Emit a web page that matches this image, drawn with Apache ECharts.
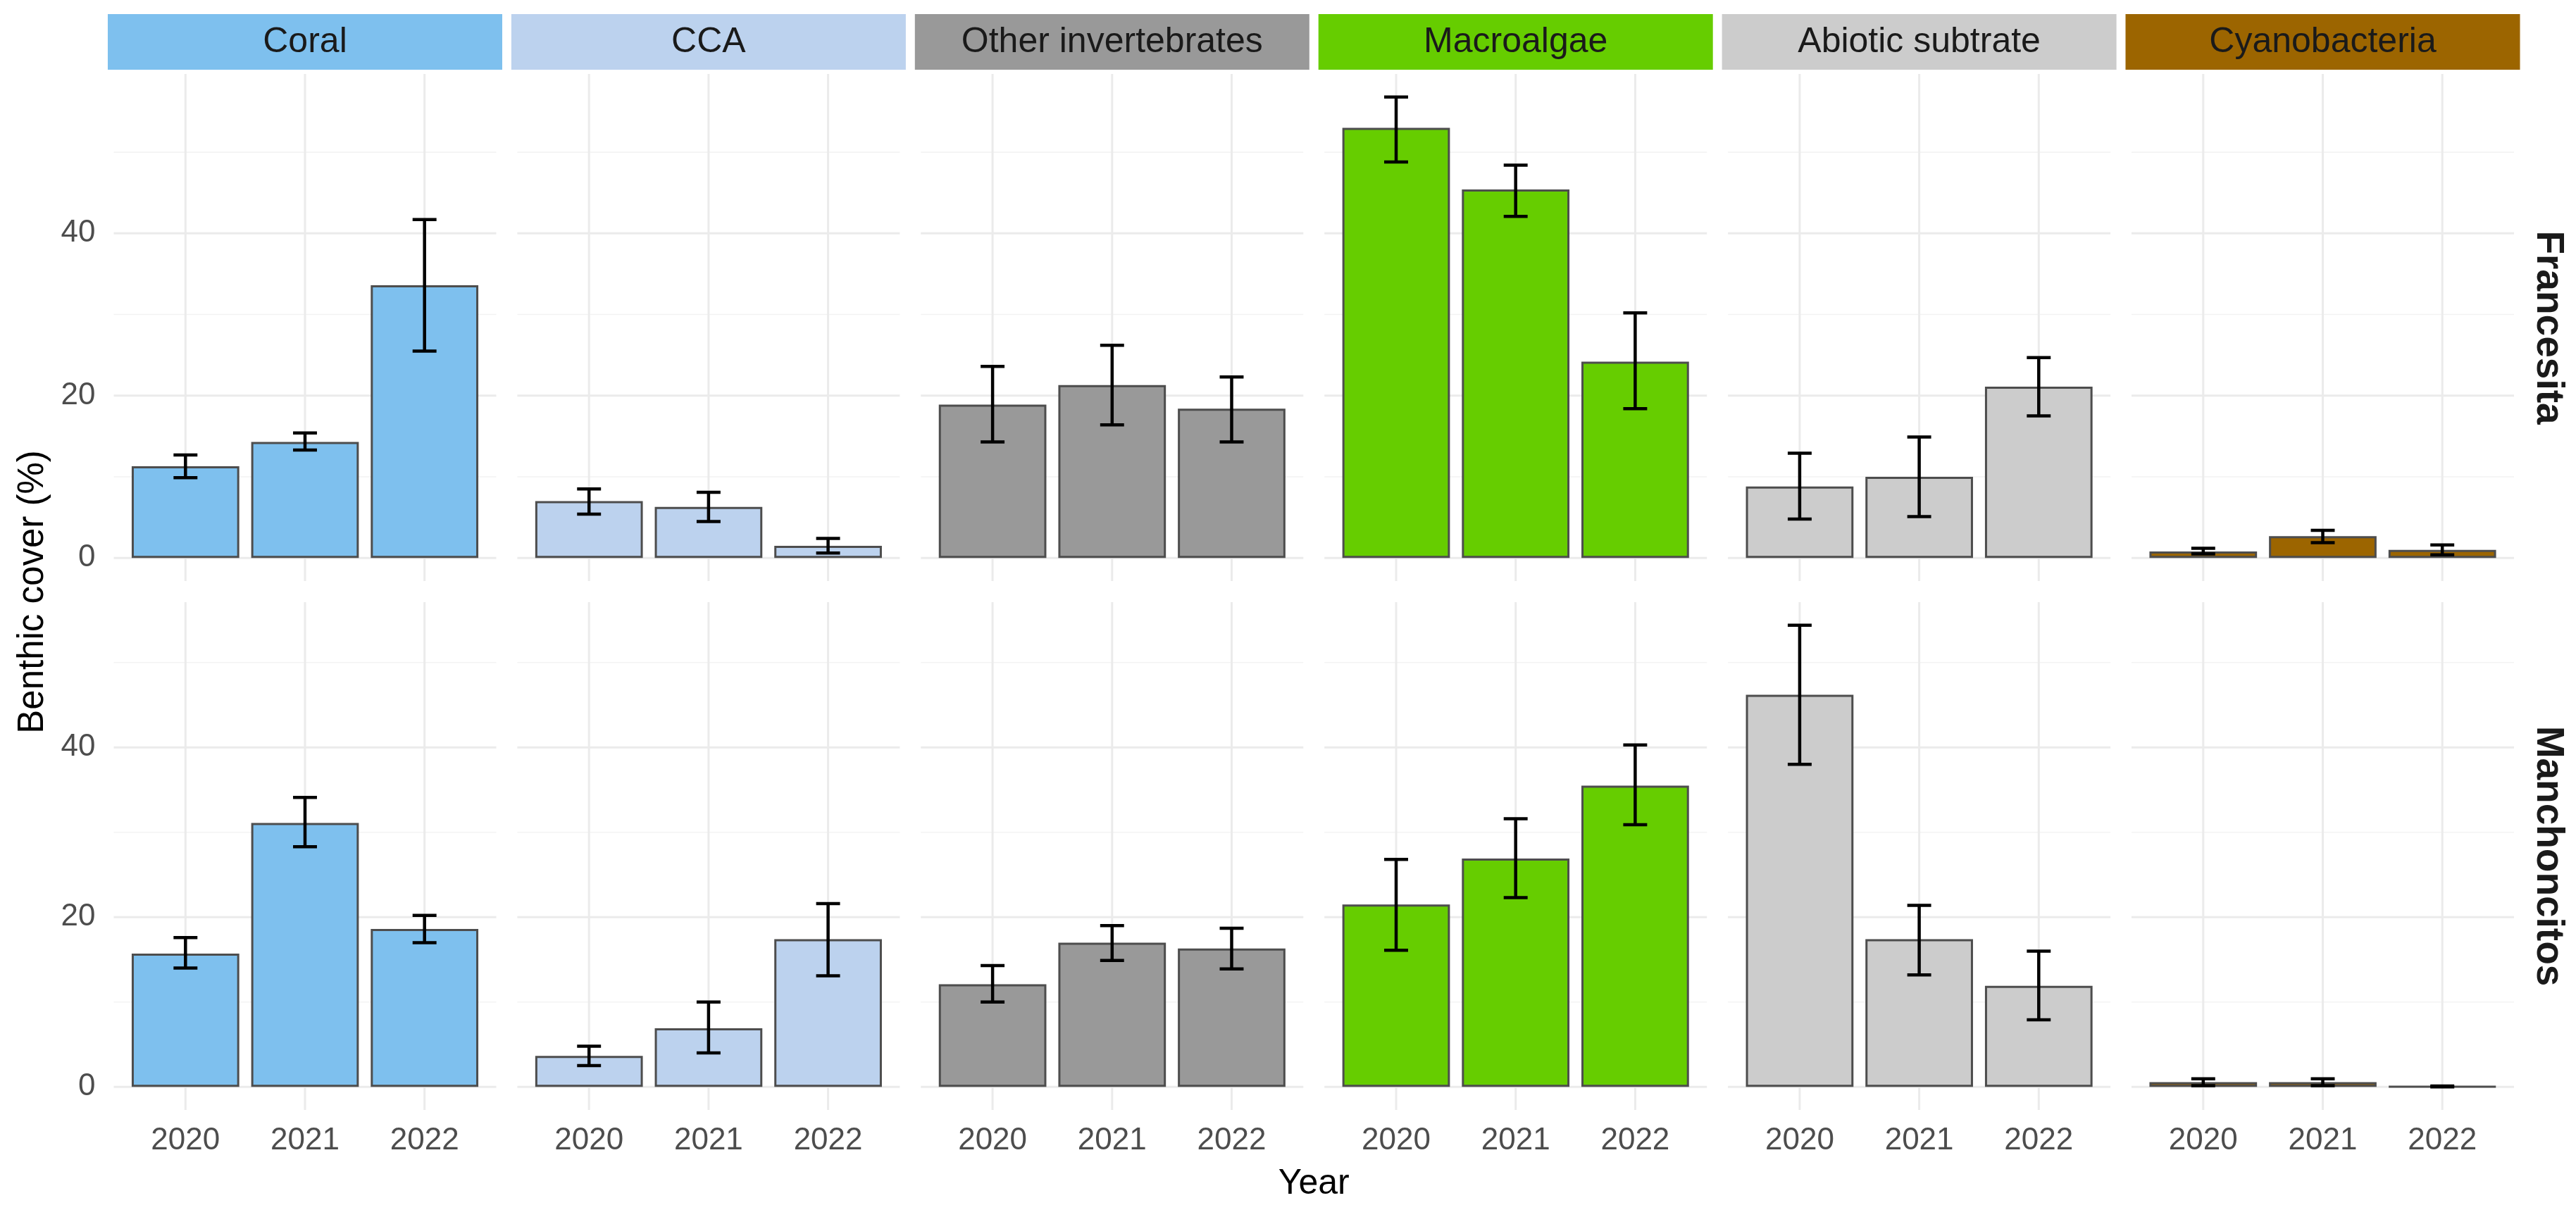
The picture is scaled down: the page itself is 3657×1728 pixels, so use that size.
<!DOCTYPE html>
<html>
<head>
<meta charset="utf-8">
<script src="https://cdn.jsdelivr.net/npm/echarts@6/dist/echarts.min.js"></script>
<style>
html,body{margin:0;padding:0;background:#ffffff;}
#chart{width:3657px;height:1728px;}
</style>
</head>
<body>
<div id="chart"></div>
<script>
// ---------------- DATA ----------------
const years = ['2020', '2021', '2022'];
const categories = ['Coral', 'CCA', 'Other invertebrates', 'Macroalgae', 'Abiotic subtrate', 'Cyanobacteria'];
const sites = ['Francesita', 'Manchoncitos'];
const yTickLabels = [0, 20, 40];
const yMinorTicks = [10, 30, 50];
const xTickPositions = [1, 2, 3];

// Francesita (mean, lower and upper error bar), one row per category
const francesitaMean = [
  [11.3, 14.3, 33.6],
  [7.0, 6.3, 1.5],
  [18.9, 21.3, 18.4],
  [53.0, 45.4, 24.2],
  [8.8, 10.0, 21.1],
  [0.8, 2.7, 1.0]
];
const francesitaLow = [
  [9.9, 13.3, 25.5],
  [5.4, 4.5, 0.6],
  [14.3, 16.4, 14.3],
  [48.8, 42.1, 18.4],
  [4.8, 5.1, 17.5],
  [0.5, 1.9, 0.4]
];
const francesitaHigh = [
  [12.7, 15.4, 41.7],
  [8.5, 8.1, 2.4],
  [23.6, 26.2, 22.3],
  [56.8, 48.4, 30.2],
  [12.9, 14.9, 24.7],
  [1.2, 3.4, 1.6]
];

// Manchoncitos
const manchoncitosMean = [
  [15.7, 31.1, 18.6],
  [3.65, 6.9, 17.4],
  [12.1, 17.0, 16.3],
  [21.5, 26.9, 35.5],
  [46.2, 17.4, 11.9],
  [0.55, 0.55, 0.05]
];
const manchoncitosLow = [
  [14.0, 28.3, 17.0],
  [2.5, 4.0, 13.1],
  [10.0, 14.9, 13.9],
  [16.1, 22.3, 30.9],
  [38.0, 13.2, 7.9],
  [0.15, 0.15, 0.0]
];
const manchoncitosHigh = [
  [17.6, 34.1, 20.2],
  [4.8, 10.0, 21.6],
  [14.3, 19.0, 18.7],
  [26.8, 31.6, 40.3],
  [54.4, 21.4, 16.0],
  [0.95, 0.95, 0.1]
];

// ---------------- STYLE / LAYOUT ----------------
const fills = ['#7EC0EE', '#BCD2EE', '#999999', '#66CD00', '#CCCCCC', '#9C6500'];
const FONT = '"Liberation Sans", Arial, Helvetica, sans-serif';
const L = {
  panelLeft: 161.5, pitch: 572.9, panelW: 543,
  rowTop: [105, 855], panelH: [720, 721],
  stripTop: 20, stripH: 79, stripPad: 8.5
};

const means = [francesitaMean, manchoncitosMean];
const lows = [francesitaLow, manchoncitosLow];
const highs = [francesitaHigh, manchoncitosHigh];

// ggplot-like free y scale per row: 5% expansion of [0, max]
const rowLimits = highs.map(h => {
  const m = Math.max(...h.flat());
  return { min: -0.05 * m, max: 1.05 * m };
});

const grids = [], xAxes = [], yAxes = [], series = [], graphics = [];
const barPx = L.panelW / 3.2 * 0.9;

// grid-line items: [value, kind]  kind 0 = minor horizontal, 1 = major horizontal, 2 = vertical
const gridItems = [];
yMinorTicks.forEach(v => gridItems.push([v, 0]));
yTickLabels.forEach(v => gridItems.push([v, 1]));
xTickPositions.forEach(v => gridItems.push([v, 2]));

function renderGrid(params, api) {
  const cs = params.coordSys;
  const v = api.value(0), kind = api.value(1);
  if (kind === 2) {
    const p = api.coord([v, 0]);
    return { type: 'line', shape: { x1: p[0], y1: cs.y, x2: p[0], y2: cs.y + cs.height },
      style: { stroke: '#EBEBEB', lineWidth: 3 } };
  }
  const p = api.coord([2, v]);
  return { type: 'line', shape: { x1: cs.x, y1: p[1], x2: cs.x + cs.width, y2: p[1] },
    style: { stroke: kind === 1 ? '#EBEBEB' : '#F3F3F3', lineWidth: kind === 1 ? 3 : 1.6 } };
}

function renderErr(params, api) {
  const x = api.value(0);
  const pLo = api.coord([x, api.value(1)]);
  const pHi = api.coord([x, api.value(2)]);
  const half = api.size([0.1, 0])[0];
  const st = { stroke: '#000000', lineWidth: 4.5, fill: null };
  return { type: 'group', children: [
    { type: 'line', shape: { x1: pLo[0], y1: pLo[1], x2: pHi[0], y2: pHi[1] }, style: st },
    { type: 'line', shape: { x1: pLo[0] - half, y1: pLo[1], x2: pLo[0] + half, y2: pLo[1] }, style: st },
    { type: 'line', shape: { x1: pHi[0] - half, y1: pHi[1], x2: pHi[0] + half, y2: pHi[1] }, style: st }
  ] };
}

for (let r = 0; r < sites.length; r++) {
  for (let c = 0; c < categories.length; c++) {
    const idx = r * categories.length + c;
    const left = L.panelLeft + c * L.pitch;
    grids.push({ left: left, top: L.rowTop[r], width: L.panelW, height: L.panelH[r],
      containLabel: false, outerBoundsMode: 'none' });
    xAxes.push({
      gridIndex: idx, type: 'value', min: 0.4, max: 3.6,
      axisLine: { show: false }, axisTick: { show: false, customValues: xTickPositions },
      splitLine: { show: false },
      axisLabel: {
        show: r === sites.length - 1, customValues: xTickPositions,
        formatter: v => years[Math.round(v) - 1] || '',
        color: '#4D4D4D', fontSize: 44, fontFamily: FONT, margin: 22
      }
    });
    yAxes.push({
      gridIndex: idx, type: 'value', min: rowLimits[r].min, max: rowLimits[r].max,
      axisLine: { show: false }, axisTick: { show: false, customValues: yTickLabels },
      splitLine: { show: false },
      axisLabel: {
        show: c === 0, customValues: yTickLabels,
        color: '#4D4D4D', fontSize: 44, fontFamily: FONT, margin: 26
      }
    });

    // grid lines (below the bars)
    series.push({
      type: 'custom', xAxisIndex: idx, yAxisIndex: idx, z: 0, silent: true, animation: false,
      data: gridItems, renderItem: renderGrid, clip: false
    });

    // bars
    series.push({
      type: 'bar', xAxisIndex: idx, yAxisIndex: idx, z: 2, silent: true,
      barWidth: barPx, animation: false,
      data: means[r][c].map((v, i) => [xTickPositions[i], v]),
      itemStyle: { color: fills[c], borderColor: '#4D4D4D', borderWidth: 3 }
    });

    // error bars
    series.push({
      type: 'custom', xAxisIndex: idx, yAxisIndex: idx, z: 3, silent: true, animation: false,
      data: lows[r][c].map((lo, i) => [xTickPositions[i], lo, highs[r][c][i]]),
      encode: { x: 0, y: [1, 2] },
      renderItem: renderErr
    });
  }
}

// facet strips (top)
categories.forEach((name, c) => {
  const left = L.panelLeft + c * L.pitch - L.stripPad;
  const w = L.panelW + 2 * L.stripPad;
  graphics.push({ type: 'rect', shape: { x: left, y: L.stripTop, width: w, height: L.stripH },
    style: { fill: fills[c] }, silent: true });
  graphics.push({ type: 'text', x: left + w / 2, y: L.stripTop + L.stripH / 2 + 1,
    style: { text: name, fontSize: 50, fontFamily: FONT, fill: '#1A1A1A', align: 'center', verticalAlign: 'middle' },
    silent: true });
});
// row strips (right)
sites.forEach((name, r) => {
  graphics.push({ type: 'text', x: 3617, y: L.rowTop[r] + L.panelH[r] / 2, rotation: -Math.PI / 2,
    style: { text: name, fontSize: 55, fontWeight: 'bold', fontFamily: FONT, fill: '#1A1A1A',
      align: 'center', verticalAlign: 'middle' }, silent: true });
});
// axis titles
graphics.push({ type: 'text', x: 47, y: (L.rowTop[0] + L.rowTop[1] + L.panelH[1]) / 2, rotation: Math.PI / 2,
  style: { text: 'Benthic cover (%)', fontSize: 51, fontFamily: FONT, fill: '#000000', align: 'center', verticalAlign: 'middle' },
  silent: true });
graphics.push({ type: 'text', x: L.panelLeft + (5 * L.pitch + L.panelW) / 2, y: 1681,
  style: { text: 'Year', fontSize: 50, fontFamily: FONT, fill: '#000000', align: 'center', verticalAlign: 'middle' },
  silent: true });

const chart = echarts.init(document.getElementById('chart'), null, { renderer: 'canvas' });
chart.setOption({
  backgroundColor: '#ffffff',
  animation: false,
  grid: grids, xAxis: xAxes, yAxis: yAxes, series: series,
  graphic: { elements: graphics }
});
</script>
</body>
</html>
